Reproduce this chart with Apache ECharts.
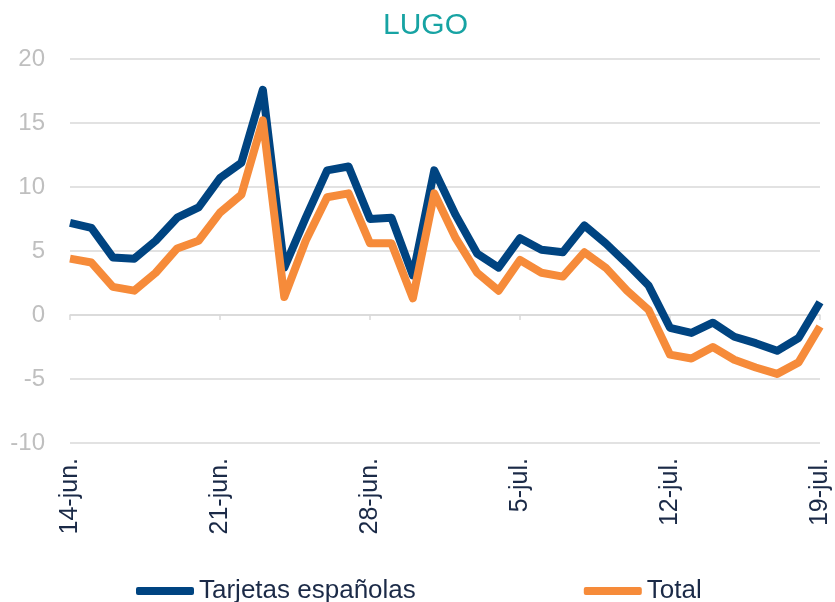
<!DOCTYPE html>
<html>
<head>
<meta charset="utf-8">
<script src="https://cdn.jsdelivr.net/npm/echarts@6/dist/echarts.min.js"></script>
<style>
  html, body { margin: 0; padding: 0; background: #fff; }
  #chart { width: 835px; height: 602px; }
</style>
</head>
<body>
<div id="chart"></div>
<script>
const CATEGORIES = [
  '14-jun.', '15-jun.', '16-jun.', '17-jun.', '18-jun.', '19-jun.', '20-jun.',
  '21-jun.', '22-jun.', '23-jun.', '24-jun.', '25-jun.', '26-jun.', '27-jun.',
  '28-jun.', '29-jun.', '30-jun.', '1-jul.', '2-jul.', '3-jul.', '4-jul.',
  '5-jul.', '6-jul.', '7-jul.', '8-jul.', '9-jul.', '10-jul.', '11-jul.',
  '12-jul.', '13-jul.', '14-jul.', '15-jul.', '16-jul.', '17-jul.', '18-jul.',
  '19-jul.'
]

const TARJETAS = [
  7.2, 6.8, 4.5, 4.4, 5.8, 7.6, 8.4,
  10.7, 11.9, 17.6, 3.7, 7.6, 11.3, 11.6,
  7.5, 7.6, 3.1, 11.3, 7.8, 4.8, 3.7,
  6.0, 5.1, 4.9, 7.0, 5.6, 4.0, 2.3,
  -1.0, -1.4, -0.6, -1.7, -2.2, -2.8, -1.8,
  1.0
]

const TOTAL = [
  4.4, 4.1, 2.2, 1.9, 3.3, 5.2, 5.8,
  8.0, 9.4, 15.2, 1.4, 5.8, 9.2, 9.5,
  5.6, 5.6, 1.3, 9.5, 6.0, 3.3, 1.9,
  4.3, 3.3, 3.0, 4.9, 3.7, 1.9, 0.4,
  -3.1, -3.4, -2.5, -3.5, -4.1, -4.6, -3.7,
  -0.9
]

const FONT = '"Liberation Sans", Arial, sans-serif'
const TEXT_COLOR = '#1b2a47'
const GRID_COLOR = '#d9d9d9'

const chart = echarts.init(document.getElementById('chart'))

chart.setOption({
  animation: false,
  backgroundColor: '#fff',
  textStyle: { fontFamily: FONT },
  title: {
    text: 'LUGO',
    left: 383,
    top: 11,
    padding: 0,
    textStyle: { color: '#17a3a3', fontSize: 30, fontWeight: 'normal', fontFamily: FONT }
  },
  legend: {
    left: 136,
    top: 578,
    padding: 0,
    itemGap: 168,
    itemWidth: 58,
    itemHeight: 8,
    icon: 'roundRect',
    textStyle: { color: TEXT_COLOR, fontSize: 26, fontFamily: FONT },
    data: ['Tarjetas españolas', 'Total']
  },
  grid: { left: 70, right: 15, top: 59, bottom: 159, containLabel: false },
  xAxis: [
    {
      // line + ticks sitting on zero
      type: 'category',
      data: CATEGORIES,
      boundaryGap: false,
      axisLine: { onZero: true, lineStyle: { color: GRID_COLOR, width: 1.5 } },
      axisTick: { show: true, interval: 6, length: 5, lineStyle: { color: GRID_COLOR, width: 1.5 } },
      axisLabel: { show: false },
      splitLine: { show: false }
    },
    {
      // labels at the bottom of the plot
      type: 'category',
      data: CATEGORIES,
      boundaryGap: false,
      position: 'bottom',
      axisLine: { show: false, onZero: false },
      axisTick: { show: false },
      axisLabel: {
        interval: 6,
        rotate: 90,
        margin: 15,
        color: TEXT_COLOR,
        fontSize: 25,
        fontFamily: FONT
      },
      splitLine: { show: false }
    }
  ],
  yAxis: {
    type: 'value',
    min: -10,
    max: 20,
    interval: 5,
    axisLine: { show: false },
    axisTick: { show: false },
    axisLabel: { color: '#bfbfbf', fontSize: 24, margin: 25, fontFamily: FONT },
    splitLine: { lineStyle: { color: GRID_COLOR, width: 1.5 } }
  },
  series: [
    {
      name: 'Tarjetas españolas',
      type: 'line',
      xAxisIndex: 0,
      data: TARJETAS,
      symbol: 'none',
      itemStyle: { color: '#004481' },
      lineStyle: { color: '#004481', width: 8, join: 'round' }
    },
    {
      name: 'Total',
      type: 'line',
      xAxisIndex: 0,
      data: TOTAL,
      symbol: 'none',
      itemStyle: { color: '#f68b3a' },
      lineStyle: { color: '#f68b3a', width: 8, join: 'round' }
    }
  ]
})
</script>
</body>
</html>
